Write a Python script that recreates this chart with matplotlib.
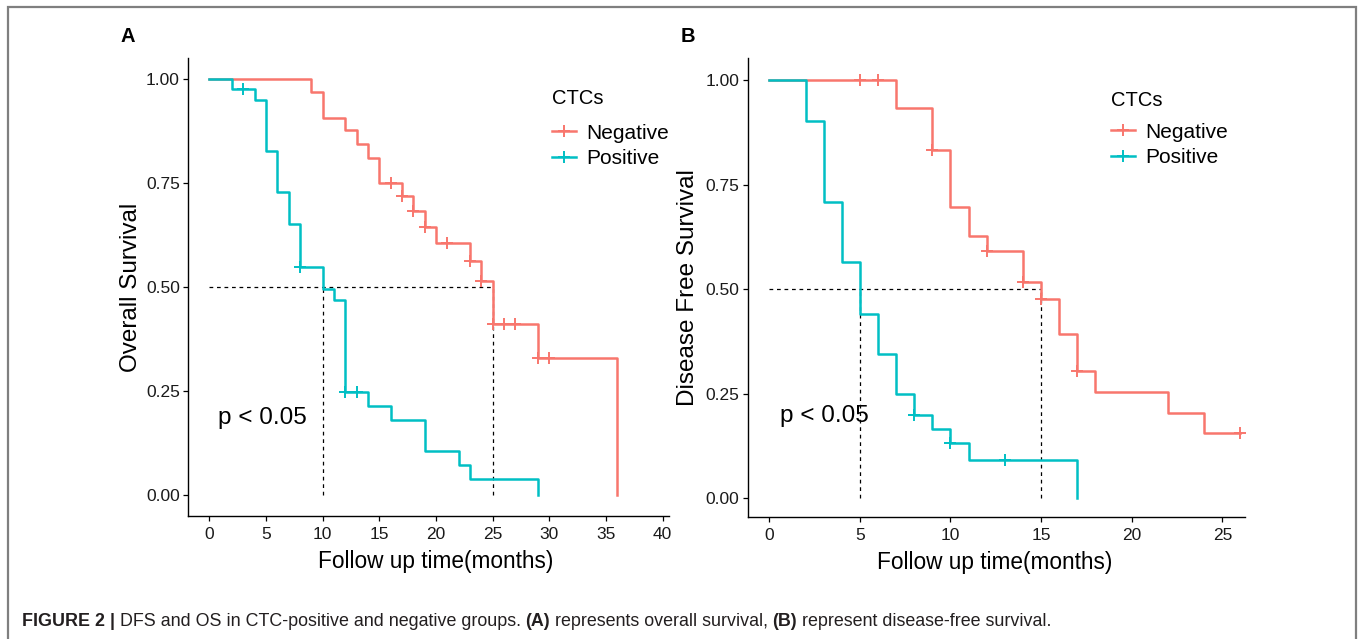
import matplotlib
matplotlib.use("Agg")
import matplotlib.pyplot as plt
from matplotlib.lines import Line2D
from matplotlib.patches import Rectangle

plt.rcParams['font.family'] = ['Liberation Sans', 'DejaVu Sans']

# ---------------- data ----------------
groups = ["Negative", "Positive"]
colors = {"Negative": "#F8766D", "Positive": "#00BFC4"}

# Panel A: overall survival
os_neg_time = [0, 9, 10, 12, 13, 14, 15, 17, 18, 19, 20, 23, 24, 25, 29, 36]
os_neg_surv = [1.0, 0.968, 0.907, 0.876, 0.844, 0.811, 0.750, 0.718, 0.682,
               0.644, 0.605, 0.562, 0.514, 0.412, 0.330, 0.0]
os_neg_cens_time = [16, 17, 18, 19, 21, 23, 24, 25, 26, 27, 29, 30]
os_neg_cens_surv = [0.750, 0.718, 0.682, 0.644, 0.605, 0.562, 0.514,
                    0.412, 0.412, 0.412, 0.330, 0.330]

os_pos_time = [0, 2, 4, 5, 6, 7, 8, 10, 11, 12, 14, 16, 19, 22, 23, 29]
os_pos_surv = [1.0, 0.976, 0.950, 0.826, 0.727, 0.652, 0.549, 0.496, 0.468,
               0.247, 0.213, 0.180, 0.106, 0.072, 0.038, 0.0]
os_pos_cens_time = [3, 8, 12, 13]
os_pos_cens_surv = [0.976, 0.549, 0.247, 0.247]

# Panel B: disease free survival
dfs_neg_time = [0, 7, 9, 10, 11, 12, 14, 15, 16, 17, 18, 22, 24, 26]
dfs_neg_surv = [1.0, 0.934, 0.833, 0.697, 0.628, 0.592, 0.518, 0.476, 0.393,
                0.305, 0.255, 0.205, 0.155, 0.155]
dfs_neg_cens_time = [5, 6, 9, 12, 14, 15, 17, 26]
dfs_neg_cens_surv = [1.0, 1.0, 0.833, 0.592, 0.518, 0.476, 0.305, 0.155]

dfs_pos_time = [0, 2, 3, 4, 5, 6, 7, 8, 9, 10, 11, 17]
dfs_pos_surv = [1.0, 0.903, 0.709, 0.564, 0.441, 0.345, 0.249, 0.199, 0.165,
                0.131, 0.092, 0.0]
dfs_pos_cens_time = [8, 10, 13]
dfs_pos_cens_surv = [0.199, 0.131, 0.092]

os_median = {"Positive": 10, "Negative": 25}
dfs_median = {"Positive": 5, "Negative": 15}

x_ticks_A = [0, 5, 10, 15, 20, 25, 30, 35, 40]
x_ticks_B = [0, 5, 10, 15, 20, 25]
y_ticks = [0.0, 0.25, 0.5, 0.75, 1.0]
y_ticklabels = ["0.00", "0.25", "0.50", "0.75", "1.00"]

# ---------------- figure ----------------
W, H = 1360, 639
fig = plt.figure(figsize=(W / 100, H / 100), dpi=100)

def fx(px):
    return px / W

def fy(py):
    return 1 - py / H

axA = fig.add_axes([fx(188.3), fy(516), fx(669 - 188.3), (516 - 58) / H])
axB = fig.add_axes([fx(747.7), fy(516.7), fx(1245 - 747.7), (516.7 - 58) / H])

tick_color = "#1a1a1a"

def style(ax, xticks, xlim, ylim, ylabel):
    for s in ["top", "right"]:
        ax.spines[s].set_visible(False)
    for s in ["left", "bottom"]:
        ax.spines[s].set_linewidth(1.0)
        ax.spines[s].set_color("black")
    ax.set_xlim(*xlim)
    ax.set_ylim(*ylim)
    ax.set_xticks(xticks)
    ax.set_yticks(y_ticks)
    ax.set_yticklabels(y_ticklabels)
    ax.tick_params(direction="out", length=3.5, width=0.9, colors="black",
                   labelsize=12.5, labelcolor=tick_color, pad=2.5)
    ax.tick_params(axis="x", pad=4.5)
    ax.set_xlabel("Follow up time(months)", fontsize=16.3, color="black")
    ax.set_ylabel(ylabel, fontsize=17.5, color="black")

def draw_curves(ax, series, medians):
    for name, t, s, ct, cs in series:
        ax.step(t, s, where="post", color=colors[name], lw=1.8, zorder=3)
        ax.plot(ct, cs, linestyle="none", marker="+", ms=9, mew=1.4,
                color=colors[name], zorder=4)
    xmax = max(medians.values())
    ax.plot([0, xmax], [0.5, 0.5], ls=(0, (3, 3)), color="black", lw=0.9, zorder=2)
    for m in medians.values():
        ax.plot([m, m], [0, 0.5], ls=(0, (3, 3)), color="black", lw=0.9, zorder=2)

draw_curves(axA, [
    ("Negative", os_neg_time, os_neg_surv, os_neg_cens_time, os_neg_cens_surv),
    ("Positive", os_pos_time, os_pos_surv, os_pos_cens_time, os_pos_cens_surv),
], os_median)
draw_curves(axB, [
    ("Negative", dfs_neg_time, dfs_neg_surv, dfs_neg_cens_time, dfs_neg_cens_surv),
    ("Positive", dfs_pos_time, dfs_pos_surv, dfs_pos_cens_time, dfs_pos_cens_surv),
], dfs_median)

style(axA, x_ticks_A, (-1.853, 40.57), (-0.05, 1.05), "Overall Survival")
style(axB, x_ticks_B, (-1.19, 26.25), (-0.044, 1.0526), "Disease Free Survival")

axA.yaxis.set_label_coords(-0.097, 0.5)
axB.yaxis.set_label_coords(-0.097, 0.5)
axA.xaxis.set_label_coords(0.514, -0.075)
axB.xaxis.set_label_coords(0.497, -0.075)

axA.text(0.77, 0.186, "p < 0.05", fontsize=17.5, va="center", ha="left")
axB.text(0.59, 0.196, "p < 0.05", fontsize=17.5, va="center", ha="left")

fig.text(fx(128), fy(37), "A", fontsize=14.5, weight="bold", ha="center", va="center")
fig.text(fx(688), fy(37), "B", fontsize=14.5, weight="bold", ha="center", va="center")

def add_legend(ax, x_px, y_px, sep):
    handles = [Line2D([], [], color=colors[g], lw=1.8, marker="+", ms=9, mew=1.4)
               for g in groups]
    leg = ax.legend(handles, groups, title="CTCs", loc="upper left",
                    bbox_to_anchor=(fx(x_px), fy(y_px)), bbox_transform=fig.transFigure,
                    frameon=False, borderpad=0, borderaxespad=0, handlelength=1.15,
                    handletextpad=0.48, labelspacing=0.32, fontsize=15,
                    title_fontsize=14.5, alignment="left")
    leg._legend_box.sep = sep

add_legend(axA, 552, 89.5, 11)
add_legend(axB, 1111, 91, 9)

# outer frame (open at the bottom)
fig.patches.append(Rectangle((fx(8), -0.1), fx(1355.7 - 8), fy(7) + 0.1,
                             transform=fig.transFigure, fill=False,
                             edgecolor="#7f7f7f", lw=1.6))

# caption with mixed weights
cap_parts = [("FIGURE 2 |", "bold"), ("DFS and OS in CTC-positive and negative groups.", "normal"),
             ("(A)", "bold"), ("represents overall survival,", "normal"),
             ("(B)", "bold"), ("represent disease-free survival.", "normal")]
cap_size = 12.9
cap_family = ["Liberation Sans Narrow", "Liberation Sans", "DejaVu Sans"]
fig.canvas.draw()
renderer = fig.canvas.get_renderer()
xpos = 22
space_px = 0.26 * cap_size * 100 / 72
for txt, wt in cap_parts:
    t = fig.text(fx(xpos), fy(621), txt, fontsize=cap_size, weight=wt,
                 family=cap_family, color="#231f20", ha="left", va="center")
    bb = t.get_window_extent(renderer=renderer)
    xpos += bb.width + space_px

fig.savefig("out.png", dpi=100)
